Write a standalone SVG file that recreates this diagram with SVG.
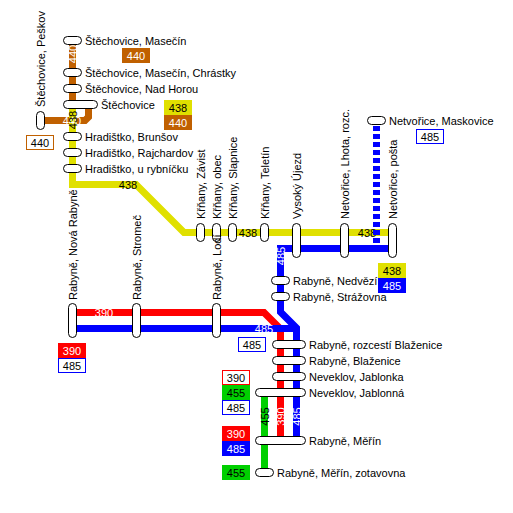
<svg xmlns="http://www.w3.org/2000/svg" width="513" height="513" viewBox="0 0 513 513">
<style>
text{font-family:"Liberation Sans",Arial,sans-serif;font-size:11px;fill:#000}
.l{fill:none;stroke-width:7;stroke-linejoin:miter}
.br{stroke:#c06000}.ye{stroke:#e0e000}.re{stroke:#ff0000}.bl{stroke:#0000ff}.gr{stroke:#00d000}
.p{fill:#fff;stroke:#000;stroke-width:1}
.c{text-anchor:middle}
.w{fill:#fff}
</style>
<rect width="513" height="513" fill="#fff"/>
<g id="connectors">
<polyline class="l br" points="72.500,40 72.500,104"/>
<polyline class="l br" points="40,120.500 85,120.500 88.500,117 88.500,104"/>
<polyline class="l ye" points="72.500,104 72.500,184.500 136,184.500 184,232.500 392,232.500"/>
<polyline class="l re" points="72,312.500 264,312.500 280.500,329 280.500,440"/>
<polyline class="l bl" points="72,328.500 296.500,328.500"/>
<polyline class="l bl" points="392,248.500 280.500,248.500 280.500,312 296.500,328 296.500,440"/>
<line class="l gr" x1="264.500" y1="392" x2="264.500" y2="472"/>
<text class="c" transform="translate(128,188.500)">438</text>
<text class="c" transform="translate(248,236.500)">438</text>
<text class="c" transform="translate(367,236.500)">438</text>
<line class="l bl" x1="376.500" y1="126" x2="376.500" y2="243" stroke-dasharray="5 3"/>
<text class="c w" transform="translate(76.500,54) rotate(-90)">440</text>
<text class="c w" transform="translate(72,124.500)">440</text>
<text class="c" transform="translate(76.500,120) rotate(-90)">438</text>
<text class="c w" transform="translate(284.500,256) rotate(-90)">485</text>
<text class="c w" transform="translate(104,316.500)">390</text>
<text class="c w" transform="translate(264,332.500)">485</text>
<text class="c" transform="translate(268.500,416.500) rotate(-90)">455</text>
<text class="c w" transform="translate(284.500,416.500) rotate(-90)">390</text>
<text class="c w" transform="translate(300.500,416.500) rotate(-90)">485</text>
</g>
<g id="n-masecin"><rect class="p" x="63.500" y="36.500" width="18" height="8" rx="4"/><text x="85" y="45">Štěchovice, Masečín</text></g>
<g id="n-chrastky"><rect class="p" x="63.500" y="68.500" width="18" height="8" rx="4"/><text x="85" y="77">Štěchovice, Masečín, Chrástky</text></g>
<g id="n-nadhorou"><rect class="p" x="63.500" y="84.500" width="18" height="8" rx="4"/><text x="85" y="93">Štěchovice, Nad Horou</text></g>
<g id="n-stechovice"><rect class="p" x="63.500" y="100.500" width="34" height="8" rx="4"/><text x="101" y="109">Štěchovice</text></g>
<g id="n-peskov"><rect class="p" x="36.500" y="111.500" width="8" height="18" rx="4"/><text transform="translate(45,107) rotate(-90)">Štěchovice, Peškov</text></g>
<g id="n-brunsov"><rect class="p" x="63.500" y="132.500" width="18" height="8" rx="4"/><text x="85" y="141">Hradištko, Brunšov</text></g>
<g id="n-rajchardov"><rect class="p" x="63.500" y="148.500" width="18" height="8" rx="4"/><text x="85" y="157">Hradištko, Rajchardov</text></g>
<g id="n-rybnicku"><rect class="p" x="63.500" y="164.500" width="18" height="8" rx="4"/><text x="85" y="173">Hradištko, u rybníčku</text></g>
<g id="n-novarabyne"><rect class="p" x="68.500" y="303.500" width="8" height="34" rx="4"/><text transform="translate(77,300) rotate(-90)">Rabyně, Nová Rabyně</text></g>
<g id="n-stromec"><rect class="p" x="132.500" y="303.500" width="8" height="34" rx="4"/><text transform="translate(141,300) rotate(-90)">Rabyně, Stromeč</text></g>
<g id="n-rlodi"><rect class="p" x="212.500" y="303.500" width="8" height="34" rx="4"/></g>
<g id="n-zavist"><rect class="p" x="196.500" y="223.500" width="8" height="18" rx="4"/><text transform="translate(205,219) rotate(-90)">Křňany, Závist</text></g>
<g id="n-obec"><rect class="p" x="212.500" y="223.500" width="8" height="18" rx="4"/><text transform="translate(221,219) rotate(-90)">Křňany, obec</text></g>
<g id="n-rlodi-label"><text transform="translate(221,300) rotate(-90)">Rabyně, Lodí</text></g>
<g id="n-slapnice"><rect class="p" x="228.500" y="223.500" width="8" height="18" rx="4"/><text transform="translate(237,219) rotate(-90)">Křňany, Slapnice</text></g>
<g id="n-teletin"><rect class="p" x="260.500" y="223.500" width="8" height="18" rx="4"/><text transform="translate(269,219) rotate(-90)">Křňany, Teletín</text></g>
<g id="n-ujezd"><rect class="p" x="292.500" y="223.500" width="8" height="34" rx="4"/><text transform="translate(301,219) rotate(-90)">Vysoký Újezd</text></g>
<g id="n-lhota"><rect class="p" x="340.500" y="223.500" width="8" height="34" rx="4"/><text transform="translate(349,219) rotate(-90)">Netvořice, Lhota, rozc.</text></g>
<g id="n-posta"><rect class="p" x="388.500" y="223.500" width="8" height="34" rx="4"/><text transform="translate(397,219) rotate(-90)">Netvořice, pošta</text></g>
<g id="n-maskovice"><rect class="p" x="367.500" y="116.500" width="18" height="8" rx="4"/><text x="389" y="125">Netvořice, Maskovice</text></g>
<g id="n-nedvezi"><rect class="p" x="271.500" y="276.500" width="18" height="8" rx="4"/><text x="293" y="285">Rabyně, Nedvězí</text></g>
<g id="n-strazovna"><rect class="p" x="271.500" y="292.500" width="18" height="8" rx="4"/><text x="293" y="301">Rabyně, Strážovna</text></g>
<g id="n-rozcesti"><rect class="p" x="272.500" y="340.500" width="33" height="8" rx="4"/><text x="309" y="349">Rabyně, rozcestí Blaženice</text></g>
<g id="n-blazenice"><rect class="p" x="272.500" y="356.500" width="33" height="8" rx="4"/><text x="309" y="365">Rabyně, Blaženice</text></g>
<g id="n-jablonka"><rect class="p" x="272.500" y="372.500" width="33" height="8" rx="4"/><text x="309" y="381">Neveklov, Jablonka</text></g>
<g id="n-jablonna"><rect class="p" x="255.500" y="388.500" width="50" height="8" rx="4"/><text x="309" y="397">Neveklov, Jablonná</text></g>
<g id="n-merin"><rect class="p" x="255.500" y="436.500" width="50" height="8" rx="4"/><text x="309" y="445">Rabyně, Měřín</text></g>
<g id="n-zotavovna"><rect class="p" x="255.500" y="468.500" width="18" height="8" rx="4"/><text x="277" y="477">Rabyně, Měřín, zotavovna</text></g>
<g id="line-badges">
<rect x="122" y="48" width="28" height="15" fill="#c06000"/><text class="c w" x="136" y="60">440</text>
<rect x="164" y="100" width="28" height="15" fill="#e0e000"/><text class="c" x="178" y="112">438</text>
<rect x="164" y="115" width="28" height="15" fill="#c06000"/><text class="c w" x="178" y="127">440</text>
<rect x="26.500" y="135.500" width="27" height="14" fill="#fff" stroke="#c06000"/><text class="c" x="40" y="147">440</text>
<rect x="416.500" y="129.500" width="27" height="14" fill="#fff" stroke="#0000ff"/><text class="c" x="430" y="141">485</text>
<rect x="378" y="263" width="28" height="15" fill="#e0e000"/><text class="c" x="392" y="275">438</text>
<rect x="378" y="278" width="28" height="15" fill="#0000ff"/><text class="c w" x="392" y="290">485</text>
<rect x="58" y="343" width="28" height="15" fill="#ff0000"/><text class="c w" x="72" y="355">390</text>
<rect x="58.500" y="358.500" width="27" height="14" fill="#fff" stroke="#0000ff"/><text class="c" x="72" y="370">485</text>
<rect x="238.500" y="337.500" width="27" height="14" fill="#fff" stroke="#0000ff"/><text class="c" x="252" y="349">485</text>
<rect x="222.500" y="370.500" width="27" height="14" fill="#fff" stroke="#ff0000"/><text class="c" x="236" y="382">390</text>
<rect x="222" y="385" width="28" height="15" fill="#00d000"/><text class="c" x="236" y="397">455</text>
<rect x="222.500" y="400.500" width="27" height="14" fill="#fff" stroke="#0000ff"/><text class="c" x="236" y="412">485</text>
<rect x="222" y="426" width="28" height="15" fill="#ff0000"/><text class="c w" x="236" y="438">390</text>
<rect x="222" y="441" width="28" height="15" fill="#0000ff"/><text class="c w" x="236" y="453">485</text>
<rect x="222" y="465" width="28" height="15" fill="#00d000"/><text class="c" x="236" y="477">455</text>
</g>
</svg>
